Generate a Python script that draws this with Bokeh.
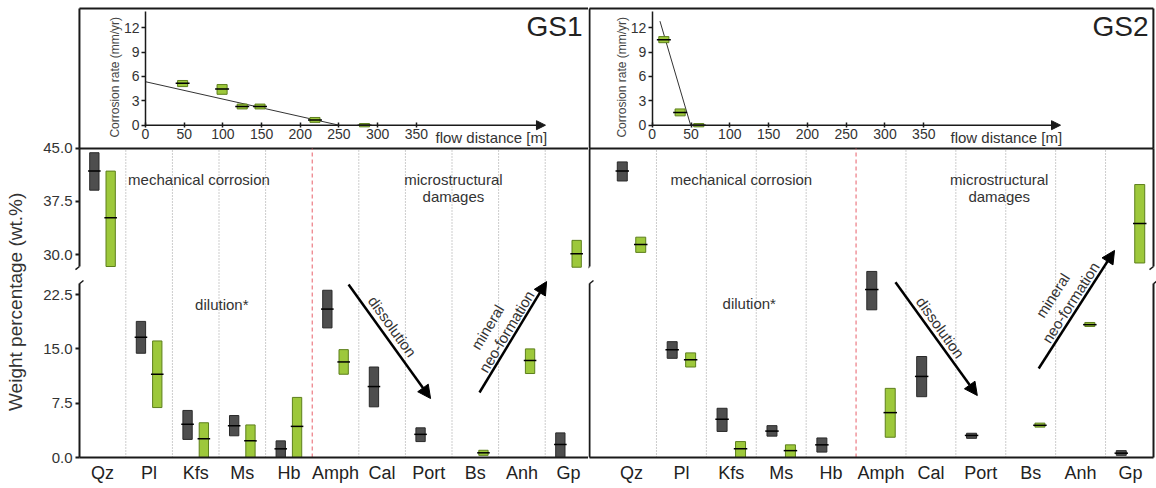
import numpy as np
from bokeh.plotting import figure
from bokeh.models import (Range1d, LinearAxis, FixedTicker, PrintfTickFormatter,
                          Arrow, NormalHead)
from bokeh.layouts import row
from bokeh.embed import file_html
from bokeh.resources import INLINE
from bokeh.core.properties import value

nan = float("nan")

# ---------------- data ----------------
minerals = ["Qz", "Pl", "Kfs", "Ms", "Hb", "Amph", "Cal", "Port", "Bs", "Anh", "Gp"]

# GS1 (wt.%): grey boxes and green boxes -> min / median / max
gs1_grey_min = [39.1, 14.4, 2.5, 3.0, 0.0, 17.9, 7.0, 2.2, nan, nan, 0.0]
gs1_grey_med = [41.8, 16.6, 4.6, 4.4, 1.2, 20.5, 9.8, 3.2, nan, nan, 1.8]
gs1_grey_max = [44.4, 18.8, 6.5, 5.8, 2.3, 23.1, 12.5, 4.1, nan, nan, 3.4]
gs1_green_min = [28.3, 6.9, 0.0, 0.0, 0.0, 11.5, nan, nan, 0.3, 11.6, 28.2]
gs1_green_med = [35.2, 11.5, 2.6, 2.3, 4.3, 13.2, nan, nan, 0.65, 13.4, 30.1]
gs1_green_max = [41.8, 16.1, 4.8, 4.5, 8.3, 14.9, nan, nan, 1.0, 15.0, 32.0]

# GS2 (wt.%)
gs2_grey_min = [40.4, 13.7, 3.6, 2.95, 0.75, 20.4, 8.4, 2.65, nan, nan, 0.3]
gs2_grey_med = [41.8, 14.9, 5.3, 3.65, 1.75, 23.2, 11.2, 3.05, nan, nan, 0.6]
gs2_grey_max = [43.1, 16.0, 6.8, 4.4, 2.7, 25.7, 13.95, 3.35, nan, nan, 0.95]
gs2_green_min = [30.3, 12.5, 0.0, 0.0, nan, 2.8, nan, nan, 4.2, 18.1, 28.8]
gs2_green_med = [31.4, 13.5, 1.2, 0.95, nan, 6.2, nan, nan, 4.45, 18.35, 34.4]
gs2_green_max = [32.45, 14.45, 2.2, 1.75, nan, 9.55, nan, nan, 4.75, 18.65, 39.9]

wt_ticks_low = [0, 7.5, 15, 22.5]
wt_ticks_high = [30, 37.5, 45]
dist_ticks = [0, 50, 100, 150, 200, 250, 300, 350]
rate_ticks = [0, 3, 6, 9, 12]

# corrosion-rate insets (flow distance m, rate mm/yr)
gs1_dist = [48, 99, 125, 148, 219, 283]
gs1_rate_min = [4.75, 3.8, 2.0, 2.0, 0.35, -0.2]
gs1_rate_med = [5.15, 4.45, 2.3, 2.3, 0.65, 0.0]
gs1_rate_max = [5.5, 5.0, 2.6, 2.6, 0.95, 0.2]
gs1_fit_dist = [0, 250]
gs1_fit_rate = [5.35, 0.0]

gs2_dist = [15, 36, 60]
gs2_rate_min = [10.15, 1.15, -0.2]
gs2_rate_med = [10.5, 1.55, 0.0]
gs2_rate_max = [10.9, 2.0, 0.2]
gs2_fit_dist = [10, 49.5]
gs2_fit_rate = [12.8, 0.0]

# ---------------- style / layout ----------------
FONT = "Liberation Sans"
TXT = "#333333"
AX = "#1a1a1a"
GREY, GREY_EDGE = "#4e4e4e", "#2a2a2a"
GREEN, GREEN_EDGE = "#9dc83b", "#5d7f1c"
BREAK = 26.0
LOW_TOP, HIGH_BOTTOM = 24.0, 28.3
LOW_RANGE = (-4.28, 63.12)      # lower wt.% segment
MAIN_TOP = 42.68                # top of main panel in lower-segment units
HIGH_RANGE = (-3.11, 65.94)     # upper wt.% segment
RATE_RANGE = (-44.69, 15.34)    # inset corrosion rate
BOX_TOP, BOX_BOTTOM = 14.354, -2.866


def axis(ticks, size="14px", tick_out=0, tick_in=0, standoff=3, lw=2.0, **kw):
    return LinearAxis(ticker=FixedTicker(ticks=ticks), major_tick_out=tick_out,
                      major_tick_in=tick_in, minor_tick_out=0, minor_tick_in=0,
                      major_label_standoff=standoff, axis_line_color=AX,
                      axis_line_width=lw, major_tick_line_color=AX,
                      major_tick_line_width=lw, major_label_text_font=FONT,
                      major_label_text_font_size=size, major_label_text_color=TXT, **kw)


def panel(width, xr, edges, dist_xr, box_lr, right_edge, off, grey, green, texts, arrows,
          left_labels, dx, dist, rmin, rmed, rmax, fx, fy, name, name_x, flow_x, arrow_x):
    p = figure(width=width, height=488, x_range=Range1d(*xr), y_range=Range1d(*LOW_RANGE),
               x_axis_type=None, y_axis_type=None, toolbar_location=None,
               output_backend="svg", title=None, min_border_left=0, min_border_right=0,
               min_border_top=0, min_border_bottom=0)
    p.outline_line_color = None
    p.extra_y_ranges = {"upper": Range1d(*HIGH_RANGE), "rate": Range1d(*RATE_RANGE)}
    p.extra_x_ranges = {"dist": Range1d(*dist_xr)}
    ins = dict(x_range_name="dist", y_range_name="rate")

    # ---- inset box ----
    l, r = box_lr
    x0 = [l, l, l] + ([r] if right_edge else [])
    x1 = [r, r, l] + ([r] if right_edge else [])
    y0 = [BOX_TOP, BOX_BOTTOM, BOX_BOTTOM] + ([BOX_BOTTOM] if right_edge else [])
    y1 = [BOX_TOP, BOX_BOTTOM, BOX_TOP] + ([BOX_TOP] if right_edge else [])
    p.segment(x0=x0, x1=x1, y0=y0, y1=y1, line_color=AX, line_width=2, **ins)

    # ---- inset: corrosion rate vs flow distance ----
    p.add_layout(axis(rate_ticks, "14px", tick_out=4, standoff=2, lw=1.5,
                      fixed_location=0, bounds=(0, 14), **ins), "left")
    xa = axis(dist_ticks, "14px", tick_out=2, tick_in=3, standoff=2, lw=1.5,
              fixed_location=0, **ins)
    xa.axis_line_color = None
    p.add_layout(xa, "below")
    p.add_layout(Arrow(end=NormalHead(size=9, fill_color=AX, line_color=AX), x_start=0,
                       y_start=0, x_end=arrow_x, y_end=0, line_color=AX, line_width=1.5,
                       **ins))
    p.line(fx, fy, line_color="#333333", line_width=1, **ins)
    d = np.array(dist, dtype=float)
    p.vbar(x=d, bottom=rmin, top=rmax, width=13, fill_color=GREEN, line_color=GREEN_EDGE,
           **ins)
    p.segment(x0=d - 9, x1=d + 9, y0=rmed, y1=rmed, line_color="black", line_width=1.5,
              **ins)
    p.text(x=[-39], y=[5.9], text=["Corrosion rate (mm/yr)"], angle=np.pi / 2,
           text_align="center", text_baseline="middle", text_font=value(FONT),
           text_font_size="12px", text_color="#444444", **ins)
    p.text(x=[flow_x], y=[-1.5], text=["flow distance [m]"], text_align="left",
           text_baseline="middle", text_font=value(FONT), text_font_size="15px",
           text_color=TXT, **ins)
    p.text(x=[name_x], y=[14.1], text=[name], text_align="right", text_baseline="top",
           text_font=value(FONT), text_font_size="28px", text_color="#222222", **ins)

    # ---- main panel ----
    idx = np.arange(len(minerals), dtype=float)
    bounds = idx[:-1] + 0.5
    red = bounds == minerals.index("Hb") + 0.5
    p.segment(x0=bounds[~red], x1=bounds[~red], y0=0, y1=MAIN_TOP,
              line_color="#9a9a9a", line_dash="1 2", line_width=1)
    p.segment(x0=bounds[red], x1=bounds[red], y0=0, y1=MAIN_TOP,
              line_color="#e8606a", line_dash="4 3", line_width=1)
    for (lo, md, hi), o, fill, edge in ((grey, -off, GREY, GREY_EDGE),
                                        (green, off, GREEN, GREEN_EDGE)):
        lo, md, hi = (np.array(a, dtype=float) for a in (lo, md, hi))
        ok = ~np.isnan(md)
        for mask, rn in ((ok & (md <= BREAK), "default"), (ok & (md > BREAK), "upper")):
            x = idx[mask] + o
            p.vbar(x=x, bottom=lo[mask], top=hi[mask], width=0.2, fill_color=fill,
                   line_color=edge, line_width=1, y_range_name=rn)
            p.segment(x0=x - 0.135, x1=x + 0.135, y0=md[mask], y1=md[mask],
                      line_color="black", line_width=1.5, y_range_name=rn)
    fmt = PrintfTickFormatter(format="%.1f")
    left, right = edges
    sides = [(left, wt_ticks_low if left_labels else [], wt_ticks_high if left_labels else [])]
    if right_edge:
        sides.append((right, [], []))
    for xpos, tl, th in sides:
        p.add_layout(axis(tl, "15px", tick_out=4, standoff=3, fixed_location=xpos,
                          bounds=(0, LOW_TOP), formatter=fmt), "left")
        p.add_layout(axis(th, "15px", tick_out=4, standoff=3, fixed_location=xpos,
                          bounds=(HIGH_BOTTOM, 45), formatter=fmt,
                          y_range_name="upper"), "left")
        p.add_layout(Arrow(end=None, x_start=xpos, y_start=HIGH_BOTTOM, x_end=xpos - dx,
                           y_end=HIGH_BOTTOM - 0.45, y_range_name="upper",
                           line_color=AX, line_width=1.5))
        p.add_layout(Arrow(end=None, x_start=xpos, y_start=LOW_TOP, x_end=xpos + dx,
                           y_end=LOW_TOP + 0.45, line_color=AX, line_width=1.5))
    bx = axis(list(idx), "18px", standoff=5, fixed_location=0, bounds=(left, right),
              major_label_overrides={i: m for i, m in enumerate(minerals)})
    bx.major_label_text_color = "#222222"
    p.add_layout(bx, "below")
    for t, x, y, rn, ang, size in texts:
        p.text(x=[x], y=[y], text=[t], angle=ang, text_align="center",
               text_baseline="middle", text_font=value(FONT), text_font_size=size,
               text_color=TXT, y_range_name=rn)
    for x0_, y0_, x1_, y1_ in arrows:
        p.add_layout(Arrow(end=NormalHead(size=13, fill_color="black", line_color="black"),
                           x_start=x0_, y_start=y0_, x_end=x1_, y_end=y1_,
                           line_color="black", line_width=2.5))
    return p


gs1_texts = [("mechanical corrosion", 2.07, 40.6, "upper", 0, "15px"),
             ("microstructural", 7.53, 40.6, "upper", 0, "15px"),
             ("damages", 7.53, 38.2, "upper", 0, "15px"),
             ("dilution*", 2.56, 21.1, "default", 0, "15px"),
             ("dissolution", 6.22, 18.1, "default", -0.948, "15px"),
             ("mineral", 8.26, 18.0, "default", 1.028, "15px"),
             ("neo-formation", 8.67, 17.4, "default", 1.028, "15px"),
             ("Weight percentage (wt.%)", -1.86, 21.5, "default", np.pi / 2, "19px")]
gs1_arrows = [(5.28, 23.9, 7.04, 8.15), (8.09, 8.98, 9.53, 24.3)]

gs2_texts = [("mechanical corrosion", 2.2, 40.6, "upper", 0, "15px"),
             ("microstructural", 7.37, 40.6, "upper", 0, "15px"),
             ("damages", 7.37, 38.2, "upper", 0, "15px"),
             ("dilution*", 2.36, 21.3, "default", 0, "15px"),
             ("dissolution", 6.19, 17.96, "default", -0.95, "15px"),
             ("mineral", 8.44, 22.4, "default", 1.0, "15px"),
             ("neo-formation", 8.8, 21.4, "default", 1.0, "15px")]
gs2_arrows = [(5.29, 24.2, 6.93, 8.56), (8.16, 12.29, 9.68, 28.6)]

p1 = panel(588, (-2.189, 10.429), (-0.494, 10.429), (-187.3, 572.4), (-85.3, 572.4), False,
           0.175, (gs1_grey_min, gs1_grey_med, gs1_grey_max),
           (gs1_green_min, gs1_green_med, gs1_green_max), gs1_texts, gs1_arrows, True, 0.086,
           gs1_dist, gs1_rate_min, gs1_rate_med, gs1_rate_max, gs1_fit_dist, gs1_fit_rate,
           "GS1", 564.6, 374.7, 516.8)
p2 = panel(568, (-0.862, 10.521), (-0.842, 10.461), (-82.1, 649.9), (-80.8, 645.9), True,
           0.185, (gs2_grey_min, gs2_grey_med, gs2_grey_max),
           (gs2_green_min, gs2_green_med, gs2_green_max), gs2_texts, gs2_arrows, False, 0.08,
           gs2_dist, gs2_rate_min, gs2_rate_med, gs2_rate_max, gs2_fit_dist, gs2_fit_rate,
           "GS2", 639.6, 384.4, 526.2)

layout = row(p1, p2)
open("out.html", "w").write(file_html(layout, INLINE))
